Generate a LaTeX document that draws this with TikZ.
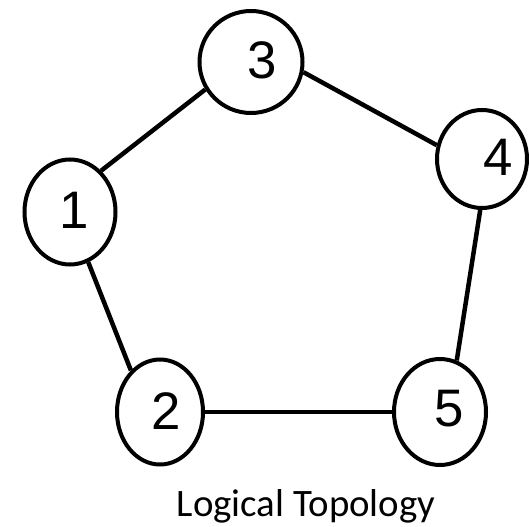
\documentclass[tikz,border=0pt]{standalone}
\usepackage{fontspec}
\setmainfont{Liberation Sans}
\newfontfamily\captionfont{Carlito}
\usetikzlibrary{shapes.geometric}

\begin{document}
\begin{tikzpicture}[x=1bp, y=-1bp,
    station/.style={draw, ellipse, line width=4bp, inner sep=0pt},
    num/.style={font=\fontsize{53}{53}\selectfont},
    link/.style={line width=4.5bp}]
    \useasboundingbox (0,0) rectangle (529,527);

    % Stations of the ring
    \node[station, minimum width=103bp, minimum height=102bp,
          label={[num, xshift=11bp, yshift=2bp]center:3}] (n3) at (251,62) {};
    \node[station, minimum width=91bp, minimum height=105bp,
          label={[num, xshift=4bp, yshift=2bp]center:1}] (n1) at (70,212) {};
    \node[station, minimum width=90bp, minimum height=98bp,
          label={[num, xshift=16bp, yshift=2bp]center:4}] (n4) at (482,159) {};
    \node[station, minimum width=86bp, minimum height=105bp,
          label={[num, xshift=6bp, yshift=1bp]center:2}] (n2) at (160,412) {};
    \node[station, minimum width=92bp, minimum height=106bp,
          label={[num, xshift=9bp, yshift=3bp]center:5}] (n5) at (440,412) {};

    % Links between neighbours
    \draw[link] (n1.53) -- (n3.211);
    \draw[link] (n3.349) -- (n4.163);
    \draw[link] (n4.268) -- (n5.72);
    \draw[link] (n5.west) -- (n2.east);
    \draw[link] (n1.290) -- (n2.125);

    % Caption
    \node[font=\captionfont\fontsize{39}{39}\selectfont, anchor=base] (caption) at (306,516) {Logical Topology};
\end{tikzpicture}
\end{document}
